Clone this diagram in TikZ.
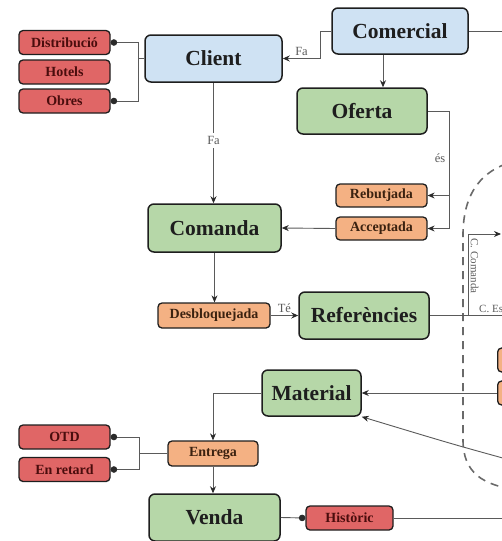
\documentclass[tikz,border=0pt]{standalone}
\usepackage{fontspec}
\setmainfont{Liberation Serif}
\usetikzlibrary{arrows.meta}
\definecolor{bluefill}{HTML}{CFE2F3}
\definecolor{greenfill}{HTML}{B6D7A8}
\definecolor{orangefill}{HTML}{F4B183}
\definecolor{redfill}{HTML}{E06666}
\definecolor{edgecol}{HTML}{1E1E1E}
\definecolor{linecol}{HTML}{5A5A5A}
\definecolor{dotcol}{HTML}{2A2A2A}
\definecolor{redtext}{HTML}{4A0D0D}
\definecolor{orangetext}{HTML}{3B2210}
\definecolor{dashcol}{HTML}{6A6A6A}
\tikzset{
  big/.style={draw=edgecol, line width=1.5pt, rounded corners=6pt, text=edgecol,
    font=\bfseries\fontsize{21.5}{24}\selectfont, inner sep=0pt},
  bluebox/.style={big, fill=bluefill},
  greenbox/.style={big, fill=greenfill},
  small/.style={draw=edgecol, line width=1.3pt, rounded corners=4pt,
    font=\bfseries\fontsize{14}{16}\selectfont, inner sep=0pt, minimum height=24pt},
  orangebox/.style={small, fill=orangefill, text=orangetext},
  redbox/.style={small, fill=redfill, text=redtext, minimum width=91pt},
  conn/.style={draw=linecol, line width=0.9pt, -{Stealth[length=7pt,width=6pt,color=dotcol]}},
  plain/.style={draw=linecol, line width=0.9pt},
  dotend/.style={draw=linecol, line width=0.9pt, -{Circle[length=6.5pt,color=dotcol]}},
  lbl/.style={font=\fontsize{12.5}{14}\selectfont, text=linecol, inner sep=1pt},
  boundary/.style={draw=dashcol, line width=1.6pt, dash pattern=on 8pt off 6pt}
}
\begin{document}
\begin{tikzpicture}[x=1pt,y=-1pt]
\useasboundingbox (0,0) rectangle (502,541);

% nodes
\node[bluebox, minimum width=136pt, minimum height=46pt] (comercial) at (400,31) {Comercial};
\node[bluebox, minimum width=137pt, minimum height=47pt] (client) at (213.5,58.5) {Client};
\node[greenbox, minimum width=130pt, minimum height=46pt] (oferta) at (362,111) {Oferta};
\node[redbox] (distrib) at (64.5,42.5) {Distribució};
\node[redbox] (hotels) at (64.5,72) {Hotels};
\node[redbox] (obres) at (64.5,101) {Obres};
\node[orangebox, minimum width=91pt, minimum height=23pt] (rebut) at (381.5,195.5) {Rebutjada};
\node[orangebox, minimum width=91pt, minimum height=23pt] (accept) at (381.5,228.5) {Acceptada};
\node[greenbox, minimum width=133pt, minimum height=48pt] (comanda) at (214.5,228) {Comanda};
\node[orangebox, minimum width=112pt, minimum height=25pt] (desbloq) at (214,315.5) {Desbloquejada};
\node[greenbox, minimum width=130pt, minimum height=47pt] (refs) at (364,315.5) {Referències};
\node[greenbox, minimum width=99pt, minimum height=46pt] (material) at (311.5,393) {Material};
\node[orangebox, minimum width=90pt, minimum height=25pt] (entrega) at (213,453.5) {Entrega};
\node[redbox] (otd) at (64.5,437) {OTD};
\node[redbox] (retard) at (64.5,469.5) {En retard};
\node[greenbox, minimum width=131pt, minimum height=47pt] (venda) at (214.5,517.5) {Venda};
\node[redbox, minimum width=87pt] (historic) at (349.5,518) {Històric};
\node[orangebox, minimum width=60pt, minimum height=24pt, anchor=west] (ext1) at (497,360) {};
\node[orangebox, minimum width=60pt, minimum height=24pt, anchor=west] (ext2) at (497,393) {};

% dashed boundary
\draw[boundary] (520,160) .. controls (480,168) and (463,195) .. (463,235)
  -- (463,440) .. controls (463,472) and (482,486) .. (520,490);

% junction coordinates
\coordinate (j1) at (138,58.5);
\coordinate (j2) at (449,111);
\coordinate (j3) at (139,453.5);
\coordinate (jc) at (468,315.5);
\coordinate (rc) at (501,234);
\coordinate (edgeA) at (520,31);
\coordinate (edgeB) at (520,315.5);
\coordinate (edgeC) at (510,460);
\coordinate (edgeD) at (520,518);

% client group
\draw[plain] (client.west) -- (j1);
\draw[dotend] (j1) |- (distrib.east);
\draw[dotend] (j1) |- (obres.east);

% comercial
\draw[conn] (comercial.west) -- ++(-11,0) |- node[lbl, pos=0.75, above=1pt] {Fa} (client.east);
\draw[conn] ([xshift=-17pt]comercial.south) -- ([xshift=-17pt]comercial.south |- oferta.north);
\draw[plain] (comercial.east) -- (edgeA);

% oferta
\draw[plain] (oferta.east) -| (j2) -- (j2 |- accept.east);
\draw[conn] (j2 |- rebut.east) -- (rebut.east);
\draw[conn] (j2 |- accept.east) -- (accept.east);
\node[lbl] (es) at (440,158) {és};
\draw[conn] (accept.west) -- (comanda.east);

% client -> comanda
\draw[conn] (client.south) -- node[lbl, fill=white, pos=0.48, inner sep=3pt] {Fa} (client.south |- comanda.north);
\draw[conn] (comanda.south) -- (comanda.south |- desbloq.north);
\draw[conn] (desbloq.east) -- node[lbl, above=1pt] {Té} (refs.west);

% referencies
\draw[plain] (refs.east) -- (edgeB);
\draw[conn] (jc) |- (rc);
\node[lbl, font=\fontsize{11}{13}\selectfont, rotate=-90] (ccom) at (474.5,266) {C. Comanda};
\node[lbl, font=\fontsize{11}{13}\selectfont, anchor=west] (cest) at (478,309) {C. Es};

% material
\draw[conn] (ext2.west) -- (material.east);
\draw[conn] (edgeC) .. controls (452,444) .. (material.south east);
\draw[conn] (material.west) -| (entrega.north);

% entrega group
\draw[plain] (entrega.west) -- (j3);
\draw[dotend] (j3) |- (otd.east);
\draw[dotend] (j3) |- (retard.east);
\draw[conn] (entrega.south) -- (entrega.south |- venda.north);

% venda
\draw[dotend] (venda.east) -- (historic.west);
\draw[plain] (historic.east) -- (edgeD);
\end{tikzpicture}
\end{document}
